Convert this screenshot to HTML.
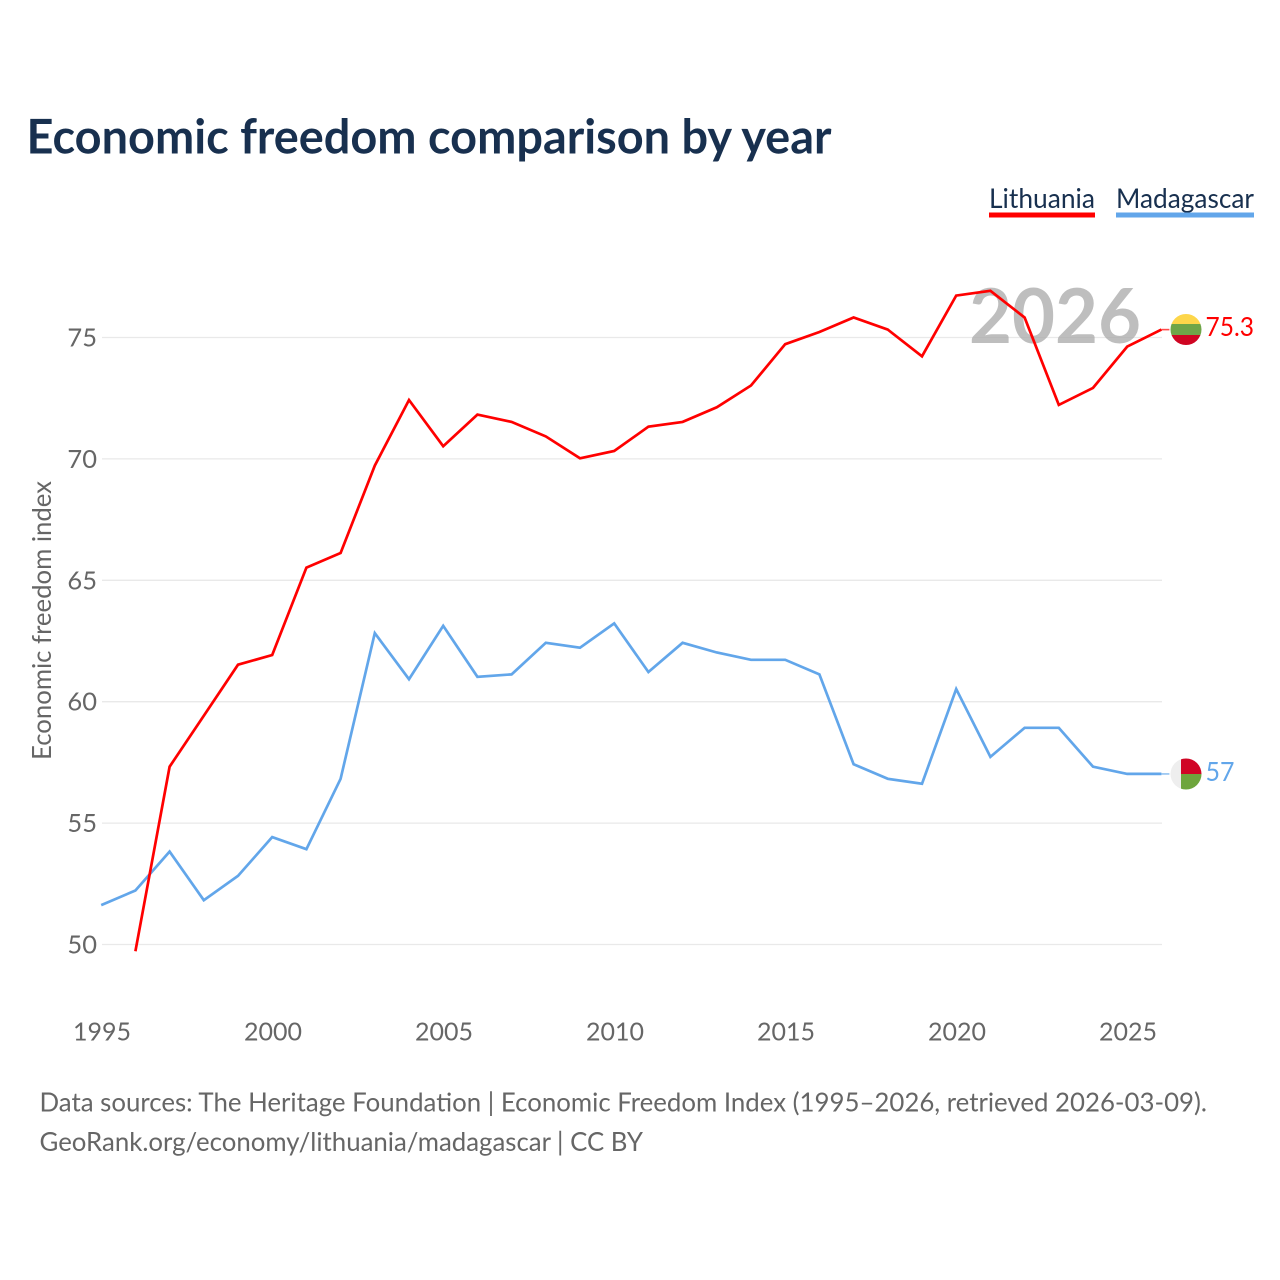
<!DOCTYPE html>
<html lang="en">
<head>
<meta charset="utf-8">
<title>Economic freedom comparison by year</title>
<style>
html,body{margin:0;padding:0;background:#fff;width:1280px;height:1280px;overflow:hidden}
svg{display:block}
text{font-family:"Lato","Carlito","Liberation Sans",sans-serif}
</style>
</head>
<body>
<svg id="chart" xmlns="http://www.w3.org/2000/svg" width="1280" height="1280" viewBox="0 0 1280 1280">
  <defs>
    <clipPath id="clip-lt"><circle cx="1186" cy="329.5" r="15.5"/></clipPath>
    <clipPath id="clip-mg"><circle cx="1186" cy="774" r="15.5"/></clipPath>
  </defs>
  <rect width="1280" height="1280" fill="#fff"/>
  <text x="26.5" y="153.5" font-size="48" font-weight="700" fill="#18304f" textLength="805" lengthAdjust="spacingAndGlyphs">Economic freedom comparison by year</text>

  <g>
    <text x="989" y="208" font-size="27" fill="#18304f" textLength="106" lengthAdjust="spacingAndGlyphs">Lithuania</text>
    <rect x="989" y="212.5" width="106" height="5" fill="#ff0000"/>
  </g>
  <g>
    <text x="1116" y="208" font-size="27" fill="#18304f" textLength="138" lengthAdjust="spacingAndGlyphs">Madagascar</text>
    <rect x="1116" y="212.5" width="138" height="5" fill="#62a6ea"/>
  </g>

  <g id="grid"></g>
  <text x="1055" y="343" text-anchor="middle" font-size="76" font-weight="700" fill="#a8a8a8" fill-opacity="0.75" textLength="172" lengthAdjust="spacingAndGlyphs">2026</text>
  <g id="y-ticks"></g>
  <g id="x-ticks"></g>
  <text transform="translate(51 620.5) rotate(-90)" text-anchor="middle" font-size="26.5" fill="#666" textLength="279" lengthAdjust="spacingAndGlyphs">Economic freedom index</text>
  <g id="series" transform="translate(-0.8 -0.6)"></g>

  <g clip-path="url(#clip-lt)">
    <rect x="1170" y="314" width="32" height="10" fill="#fdd64a"/>
    <rect x="1170" y="324" width="32" height="11" fill="#6ea548"/>
    <rect x="1170" y="335" width="32" height="10" fill="#cf0522"/>
  </g>
  <g clip-path="url(#clip-mg)">
    <rect x="1170" y="758" width="11" height="32" fill="#eeeeee"/>
    <rect x="1181" y="758" width="21" height="16" fill="#d00525"/>
    <rect x="1181" y="774" width="21" height="16" fill="#6ea53c"/>
  </g>
  <text x="1205.5" y="336" font-size="26.5" fill="#ff0000" textLength="48.5" lengthAdjust="spacingAndGlyphs">75.3</text>
  <text x="1205.5" y="781" font-size="26.5" fill="#62a6ea" textLength="29" lengthAdjust="spacingAndGlyphs">57</text>

  <text x="39.5" y="1111.5" font-size="26.5" fill="#666" textLength="1167.5" lengthAdjust="spacingAndGlyphs">Data sources: The Heritage Foundation | Economic Freedom Index (1995–2026, retrieved 2026-03-09).</text>
  <text x="39.5" y="1151" font-size="26.5" fill="#666" textLength="603.5" lengthAdjust="spacingAndGlyphs">GeoRank.org/economy/lithuania/madagascar | CC BY</text>
</svg>
<script>
const years = [1995,1996,1997,1998,1999,2000,2001,2002,2003,2004,2005,2006,2007,2008,2009,2010,2011,2012,2013,2014,2015,2016,2017,2018,2019,2020,2021,2022,2023,2024,2025,2026];
const lithuania = [null,49.7,57.3,59.4,61.5,61.9,65.5,66.1,69.7,72.4,70.5,71.8,71.5,70.9,70.0,70.3,71.3,71.5,72.1,73.0,74.7,75.2,75.8,75.3,74.2,76.7,76.9,75.8,72.2,72.9,74.6,75.3];
const madagascar = [51.6,52.2,53.8,51.8,52.8,54.4,53.9,56.8,62.8,60.9,63.1,61.0,61.1,62.4,62.2,63.2,61.2,62.4,62.0,61.7,61.7,61.1,57.4,56.8,56.6,60.5,57.7,58.9,58.9,57.3,57.0,57.0];
const yTicks = [50,55,60,65,70,75];
const xTicks = [1995,2000,2005,2010,2015,2020,2025];

const NS = 'http://www.w3.org/2000/svg';
function xScale(year){ return 102 + (year - 1995) * 34.2; }
function yScale(value){ return 944.5 - (value - 50) * 24.28; }
function make(tag, attrs, parent, content){
  const el = document.createElementNS(NS, tag);
  for (const k in attrs) el.setAttribute(k, attrs[k]);
  if (content !== undefined) el.textContent = content;
  parent.appendChild(el);
  return el;
}
const grid = document.getElementById('grid');
const yGroup = document.getElementById('y-ticks');
const xGroup = document.getElementById('x-ticks');
const seriesGroup = document.getElementById('series');

yTicks.forEach(function(t){
  const line = make('line', {x1:102, x2:1162, y1:yScale(t), y2:yScale(t), stroke:'#e9e9e9', 'stroke-width':1.3}, grid);
  
  
  const label = make('text', {x:97, y:yScale(t)+9, 'text-anchor':'end', 'font-size':25.5, fill:'#666'}, yGroup, String(t));
  
  
});
xTicks.forEach(function(t){
  const label = make('text', {x:xScale(t), y:1040.5, 'text-anchor':'middle', 'font-size':25, fill:'#666'}, xGroup, String(t));
  
  
});
function drawSeries(values, color, name){
  const pts = [];
  values.forEach(function(v, i){
    if (v !== null) pts.push(xScale(years[i]).toFixed(1) + ',' + yScale(v).toFixed(1));
  });
  const path = make('polyline', {points:pts.join(' '), fill:'none', stroke:color, 'stroke-width':2.7, 'stroke-linejoin':'miter'}, seriesGroup);
  
  
  const last = values[values.length - 1];
  const lastX = xScale(years[years.length - 1]);
  const lead = make('line', {x1:lastX, x2:lastX + 8, y1:yScale(last), y2:yScale(last), stroke:color, 'stroke-width':1.6, 'stroke-opacity':0.7}, seriesGroup);
  
  
}
drawSeries(madagascar, '#62a6ea', 'line-madagascar');
drawSeries(lithuania, '#ff0000', 'line-lithuania');
</script>
</body>
</html>
